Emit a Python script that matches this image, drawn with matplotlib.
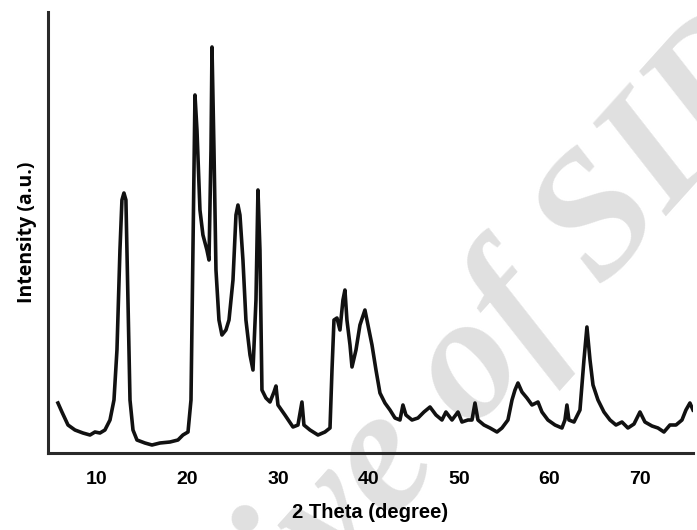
import numpy as np
import matplotlib
matplotlib.use("Agg")
import matplotlib.pyplot as plt

# XRD pattern
two_theta = [5.69, 6.13, 6.80, 7.57, 8.45, 9.23, 9.78, 10.33, 10.88, 11.44,
             11.88, 12.21, 12.54, 12.76, 12.98, 13.20, 13.43, 13.65, 13.98, 14.42,
             15.30, 16.08, 16.96, 18.07, 18.95, 19.50, 20.06, 20.39, 20.61, 20.83,
             21.05, 21.38, 21.71, 22.15, 22.38, 22.60, 22.71, 22.93, 23.15, 23.48,
             23.81, 24.25, 24.59, 25.03, 25.36, 25.58, 25.80, 26.13, 26.46, 26.91,
             27.24, 27.57, 27.79, 28.01, 28.23, 28.67, 29.12, 29.56, 29.78, 30.00,
             30.77, 31.66, 32.21, 32.65, 32.87, 33.54, 34.42, 35.19, 35.75, 35.97,
             36.19, 36.52, 36.85, 37.18, 37.40, 37.62, 37.96, 38.18, 38.62, 39.06,
             39.61, 39.94, 40.39, 40.83, 41.27, 41.82, 42.38, 42.93, 43.48, 43.81,
             44.14, 44.81, 45.47, 46.13, 46.80, 47.46, 48.12, 48.56, 49.23, 49.89,
             50.33, 50.99, 51.44, 51.77, 52.10, 52.76, 53.43, 54.20, 54.75, 55.41,
             55.86, 56.19, 56.52, 56.96, 57.51, 58.07, 58.73, 59.17, 59.83, 60.61,
             61.38, 61.71, 61.93, 62.15, 62.71, 63.37, 63.81, 64.14, 64.48, 64.81,
             65.36, 66.02, 66.69, 67.35, 68.01, 68.67, 69.34, 70.00, 70.55, 71.33,
             71.99, 72.65, 73.31, 73.98, 74.64, 75.08, 75.52, 75.86]
intensity = [50, 41, 28, 23, 20, 18, 21, 20, 23, 33,
             53, 103, 203, 253, 260, 253, 153, 53, 23, 13,
             10, 8, 10, 11, 13, 18, 21, 53, 203, 358,
             323, 243, 218, 203, 193, 303, 406, 303, 183, 133,
             118, 123, 133, 173, 238, 248, 238, 193, 133, 98,
             83, 153, 263, 203, 63, 55, 51, 61, 67, 48,
             38, 26, 28, 51, 28, 23, 18, 21, 25, 83,
             133, 135, 123, 153, 163, 133, 108, 86, 103, 128,
             143, 128, 108, 83, 60, 50, 43, 35, 33, 48,
             38, 33, 35, 41, 46, 38, 33, 41, 33, 41,
             31, 33, 33, 50, 33, 28, 25, 21, 25, 33,
             53, 63, 70, 61, 55, 48, 51, 41, 33, 28,
             25, 33, 48, 33, 31, 43, 93, 126, 93, 68,
             53, 41, 33, 28, 31, 25, 29, 41, 31, 27,
             25, 21, 28, 28, 33, 43, 50, 43]

xticks = [10, 20, 30, 40, 50, 60, 70]

fig = plt.figure(figsize=(6.97, 5.30), dpi=100)
ax = fig.add_axes([48/697, 77/530, 645/697, 441/530])

# watermark, behind everything
fig.text(0.575, 0.14, "Archive of SID", family="Liberation Serif", style="italic",
         fontweight="bold", fontsize=128, color="#e0e0e0", rotation=48,
         rotation_mode="anchor", ha="center", va="center", zorder=-10)
ax.patch.set_alpha(0)

ax.plot(two_theta, intensity, color="#111111", lw=2.6, solid_joinstyle="round", zorder=3)

ax.set_xlim(4.59, 75.86)
ax.set_ylim(0, 441)
ax.set_xticks(xticks)
ax.set_xticklabels([str(t) for t in xticks], family="Liberation Sans",
                   fontweight="bold", fontsize=14)
ax.set_yticks([])
ax.tick_params(axis="x", length=0, pad=13)

for s in ["top", "right"]:
    ax.spines[s].set_visible(False)
for s in ["left", "bottom"]:
    ax.spines[s].set_linewidth(2.2)
    ax.spines[s].set_color("#2a2a2a")

ax.set_xlabel("2 Theta (degree)", family="Liberation Sans", fontweight="bold",
              fontsize=14.5, labelpad=11)
ax.set_ylabel("Intensity (a.u.)", family="Open Sans", fontweight="bold",
              fontsize=14, labelpad=8)

fig.savefig("out.png", dpi=100)
